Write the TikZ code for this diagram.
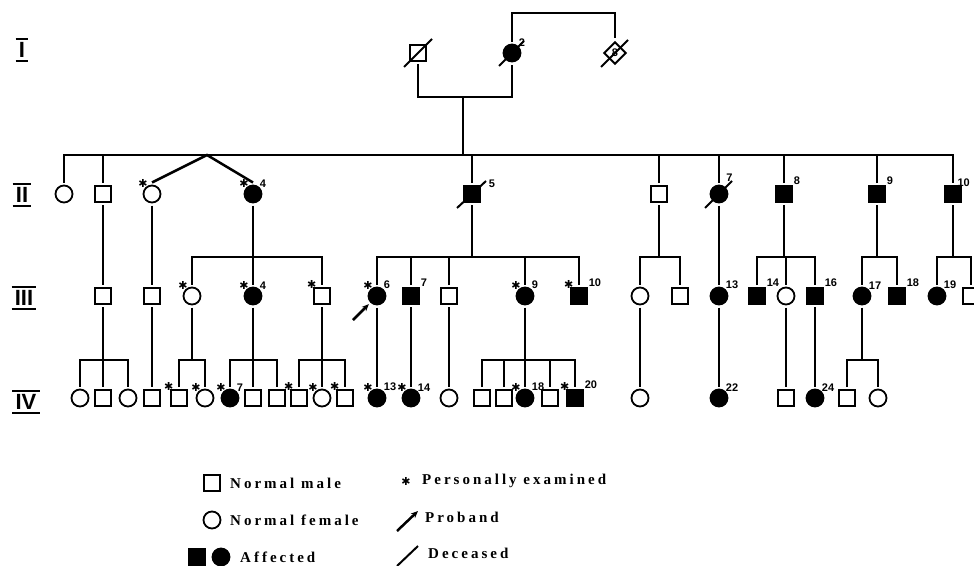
\documentclass[tikz,border=0pt]{standalone}
\usepackage{fontspec}
\setmainfont{Liberation Serif}
\newfontfamily\numfont{Liberation Sans}
\newfontfamily\symfont{DejaVu Sans}
\usetikzlibrary{shapes.geometric, arrows.meta, calc}
\tikzset{
    person/.style={
        draw, line width=1.8pt, inner sep=0pt, outer sep=3pt
    },
    male/.style={person, rectangle, minimum size=16pt},
    female/.style={person, circle, minimum size=17pt},
    unknown/.style={person, diamond, minimum size=24pt,
        font=\numfont\bfseries\fontsize{11}{11}\selectfont},
    affected/.style={fill=black},
    numlab/.style={font=\numfont\bfseries\fontsize{11}{11}\selectfont, inner sep=0pt},
    asterisk/.style={font=\symfont\fontsize{11}{11}\selectfont, inner sep=0pt, label distance=-4pt},
    line/.style={line width=2.5pt},
    deceased/.style={line width=2pt},
    gen/.style={font=\numfont\bfseries\fontsize{22}{22}\selectfont, inner xsep=3pt, inner ysep=3pt},
    genbar/.style={line width=2pt},
    legend/.style={anchor=west, inner sep=0pt,
        font=\bfseries\fontsize{15}{15}\selectfont\addfontfeature{LetterSpace=20}},
}
\begin{document}
\begin{tikzpicture}[x=1pt, y=-1pt, label distance=-2pt]
        \useasboundingbox (0,0) rectangle (974,565);

        % GENERATION LABELS
        \node[gen] (GI)   at (22,50)  {I};
        \node[gen] (GII)  at (22,195) {II};
        \node[gen] (GIII) at (24,298) {III};
        \node[gen] (GIV)  at (26,402) {IV};
        \draw[genbar] (GI.north west)   -- (GI.north east);
        \draw[genbar] (GI.south west)   -- (GI.south east);
        \draw[genbar] (GII.north west)  -- (GII.north east);
        \draw[genbar] (GII.south west)  -- (GII.south east);
        \draw[genbar] (GIII.north west) -- (GIII.north east);
        \draw[genbar] (GIII.south west) -- (GIII.south east);
        \draw[genbar] (GIV.north west)  -- (GIV.north east);
        \draw[genbar] (GIV.south west)  -- (GIV.south east);

        % GENERATION I
        \node[male]                                 (I1) at (418,53) {};
        \node[female, affected, label={[numlab]45:2}] (I2) at (512,53) {};
        \node[unknown]                              (I3) at (615,53) {8};
        \coordinate (mar1) at (463,97);
        \coordinate (top1) at (560,13);
        \draw[line] (I1.south) |- (mar1) -| (I2.south);
        \draw[line] (I2.north) |- (top1) -| (I3.north);
        \draw[deceased] ($(I1)+(-14,14)$) -- ($(I1)+(14,-14)$);
        \draw[deceased] ($(I2)+(-13,13)$) -- ($(I2)+(12,-12)$);
        \draw[deceased] ($(I3)+(-14,14)$) -- ($(I3)+(13,-13)$);

        % GENERATION II
        \node[female]                       (II1)  at (64,194)  {};
        \node[male]                         (II2)  at (103,194) {};
        \node[female, label={[asterisk]125:✱}] (II3) at (152,194) {};
        \node[female, affected, label={[asterisk]125:✱}, label={[numlab]45:4}] (II4) at (253,194) {};
        \node[male, affected, label={[numlab, label distance=6pt]20:5}] (II5) at (472,194) {};
        \node[male]                         (II6)  at (659,194) {};
        \node[female, affected, label={[numlab, label distance=3pt]60:7}] (II7) at (719,194) {};
        \node[male, affected, label={[numlab]45:8}]  (II8)  at (784,194) {};
        \node[male, affected, label={[numlab]45:9}]  (II9)  at (877,194) {};
        \node[male, affected, label={[numlab, label distance=-4pt]60:10}] (II10) at (953,194) {};
        \draw[deceased] ($(II5)+(-15,14)$) -- ($(II5)+(14,-13)$);
        \draw[deceased] ($(II7)+(-14,14)$) -- ($(II7)+(13,-13)$);

        % II CONNECTIONS
        \coordinate (sib1)  at (463,155);
        \coordinate (twin1) at (207,155);
        \draw[line] (mar1) -- (sib1);
        \draw[line] (II1.north) |- (sib1) -| (II10.north);
        \draw[line] (II2.north) -- (II2.north |- sib1);
        \draw[line] (II3.north) -- (twin1) -- (II4.north);
        \draw[line] (II5.north) -- (II5.north |- sib1);
        \draw[line] (II6.north) -- (II6.north |- sib1);
        \draw[line] (II7.north) -- (II7.north |- sib1);
        \draw[line] (II8.north) -- (II8.north |- sib1);
        \draw[line] (II9.north) -- (II9.north |- sib1);

        % GENERATION III
        \node[male]   (III1) at (103,296) {};
        \node[male]   (III2) at (152,296) {};
        \node[female, label={[asterisk]125:✱}] (III3) at (192,296) {};
        \node[female, affected, label={[asterisk]125:✱}, label={[numlab]45:4}] (III4) at (253,296) {};
        \node[male, label={[asterisk]125:✱}]   (III5) at (322,296) {};
        \node[female, affected, label={[asterisk]125:✱}, label={[numlab]45:6}] (III6) at (377,296) {};
        \node[male, affected, label={[numlab]45:7}] (III7) at (411,296) {};
        \node[male]   (III8) at (449,296) {};
        \node[female, affected, label={[asterisk]125:✱}, label={[numlab]45:9}] (III9) at (525,296) {};
        \node[male, affected, label={[asterisk]125:✱}, label={[numlab]45:10}] (III10) at (579,296) {};
        \node[female] (III11) at (640,296) {};
        \node[male]   (III12) at (680,296) {};
        \node[female, affected, label={[numlab]45:13}] (III13) at (719,296) {};
        \node[male, affected, label={[numlab]45:14}]   (III14) at (757,296) {};
        \node[female] (III15) at (786,296) {};
        \node[male, affected, label={[numlab]45:16}]   (III16) at (815,296) {};
        \node[female, affected, label={[numlab]45:17}] (III17) at (862,296) {};
        \node[male, affected, label={[numlab]45:18}]   (III18) at (897,296) {};
        \node[female, affected, label={[numlab]45:19}] (III19) at (937,296) {};
        \node[male]   (III20) at (971,296) {};

        % PROBAND
        \coordinate (prb) at (353,320);
        \draw[line, -{Stealth[length=7pt, width=6pt]}] (prb) -- (III6.225);

        % III CONNECTIONS
        \coordinate (sib2) at (253,257);
        \coordinate (sib3) at (472,257);
        \coordinate (sib4) at (659,257);
        \coordinate (sib5) at (784,257);
        \coordinate (sib6) at (877,257);
        \coordinate (sib7) at (953,257);
        \draw[line] (II2.south) -- (III1.north);
        \draw[line] (II3.south) -- (III2.north);
        \draw[line] (II4.south) -- (III4.north);
        \draw[line] (III3.north) |- (sib2) -| (III5.north);
        \draw[line] (II5.south) -- (sib3);
        \draw[line] (III6.north) |- (sib3) -| (III10.north);
        \draw[line] (III7.north) -- (III7.north |- sib3);
        \draw[line] (III8.north) -- (III8.north |- sib3);
        \draw[line] (III9.north) -- (III9.north |- sib3);
        \draw[line] (II6.south) -- (sib4);
        \draw[line] (III11.north) |- (sib4) -| (III12.north);
        \draw[line] (II7.south) -- (III13.north);
        \draw[line] (II8.south) -- (sib5);
        \draw[line] (III14.north) |- (sib5) -| (III16.north);
        \draw[line] (III15.north) -- (III15.north |- sib5);
        \draw[line] (II9.south) -- (sib6);
        \draw[line] (III17.north) |- (sib6) -| (III18.north);
        \draw[line] (II10.south) -- (sib7);
        \draw[line] (III19.north) |- (sib7) -| (III20.north);

        % GENERATION IV
        \node[female] (IV1) at (80,398)  {};
        \node[male]   (IV2) at (103,398) {};
        \node[female] (IV3) at (128,398) {};
        \node[male]   (IV4) at (152,398) {};
        \node[male, label={[asterisk]125:✱}]   (IV5) at (179,398) {};
        \node[female, label={[asterisk]125:✱}] (IV6) at (205,398) {};
        \node[female, affected, label={[asterisk]125:✱}, label={[numlab]45:7}] (IV7) at (230,398) {};
        \node[male]   (IV8) at (253,398) {};
        \node[male]   (IV9) at (277,398) {};
        \node[male, label={[asterisk]125:✱}]   (IV10) at (299,398) {};
        \node[female, label={[asterisk]125:✱}] (IV11) at (322,398) {};
        \node[male, label={[asterisk]125:✱}]   (IV12) at (345,398) {};
        \node[female, affected, label={[asterisk]125:✱}, label={[numlab]45:13}] (IV13) at (377,398) {};
        \node[female, affected, label={[asterisk]125:✱}, label={[numlab]45:14}] (IV14) at (411,398) {};
        \node[female] (IV15) at (449,398) {};
        \node[male]   (IV16) at (482,398) {};
        \node[male]   (IV17) at (504,398) {};
        \node[female, affected, label={[asterisk]125:✱}, label={[numlab]45:18}] (IV18) at (525,398) {};
        \node[male]   (IV19) at (550,398) {};
        \node[male, affected, label={[asterisk]125:✱}, label={[numlab]45:20}] (IV20) at (575,398) {};
        \node[female] (IV21) at (640,398) {};
        \node[female, affected, label={[numlab]45:22}] (IV22) at (719,398) {};
        \node[male]   (IV23) at (786,398) {};
        \node[female, affected, label={[numlab]45:24}] (IV24) at (815,398) {};
        \node[male]   (IV25) at (847,398) {};
        \node[female] (IV26) at (878,398) {};

        % IV CONNECTIONS
        \coordinate (sib8)  at (103,360);
        \coordinate (sib9)  at (192,360);
        \coordinate (sib10) at (253,360);
        \coordinate (sib11) at (322,360);
        \coordinate (sib12) at (525,360);
        \coordinate (sib13) at (862,360);
        \draw[line] (III1.south) -- (IV2.north);
        \draw[line] (IV1.north) |- (sib8) -| (IV3.north);
        \draw[line] (III2.south) -- (IV4.north);
        \draw[line] (III3.south) -- (sib9);
        \draw[line] (IV5.north) |- (sib9) -| (IV6.north);
        \draw[line] (III4.south) -- (IV8.north);
        \draw[line] (IV7.north) |- (sib10) -| (IV9.north);
        \draw[line] (III5.south) -- (IV11.north);
        \draw[line] (IV10.north) |- (sib11) -| (IV12.north);
        \draw[line] (III6.south) -- (IV13.north);
        \draw[line] (III7.south) -- (IV14.north);
        \draw[line] (III8.south) -- (IV15.north);
        \draw[line] (III9.south) -- (IV18.north);
        \draw[line] (IV16.north) |- (sib12) -| (IV20.north);
        \draw[line] (IV17.north) -- (IV17.north |- sib12);
        \draw[line] (IV19.north) -- (IV19.north |- sib12);
        \draw[line] (III11.south) -- (IV21.north);
        \draw[line] (III13.south) -- (IV22.north);
        \draw[line] (III15.south) -- (IV23.north);
        \draw[line] (III16.south) -- (IV24.north);
        \draw[line] (III17.south) -- (sib13);
        \draw[line] (IV25.north) |- (sib13) -| (IV26.north);

        % LEGEND
        \node[male]             (Lmale)  at (212,483) {};
        \node[legend]           (Tmale)  at (230,483) {Normal male};
        \node[female]           (Lfem)   at (212,520) {};
        \node[legend]           (Tfem)   at (230,520) {Normal female};
        \node[male, affected]   (Laffm)  at (197,557) {};
        \node[female, affected] (Lafff)  at (221,557) {};
        \node[legend]           (Taff)   at (240,557) {Affected};
        \node[asterisk]         (Last)   at (406,481) {✱};
        \node[legend]           (Tast)   at (422,481) {Personally examined};
        \coordinate (LprbA) at (397,531);
        \coordinate (LprbB) at (418,511);
        \draw[line, -{Stealth[length=7pt, width=6pt]}] (LprbA) -- (LprbB);
        \node[legend]           (Tprb)   at (425,517) {Proband};
        \coordinate (LdecA) at (397,566);
        \coordinate (LdecB) at (418,546);
        \draw[deceased] (LdecA) -- (LdecB);
        \node[legend]           (Tdec)   at (428,553) {Deceased};

    \end{tikzpicture}
\end{document}
